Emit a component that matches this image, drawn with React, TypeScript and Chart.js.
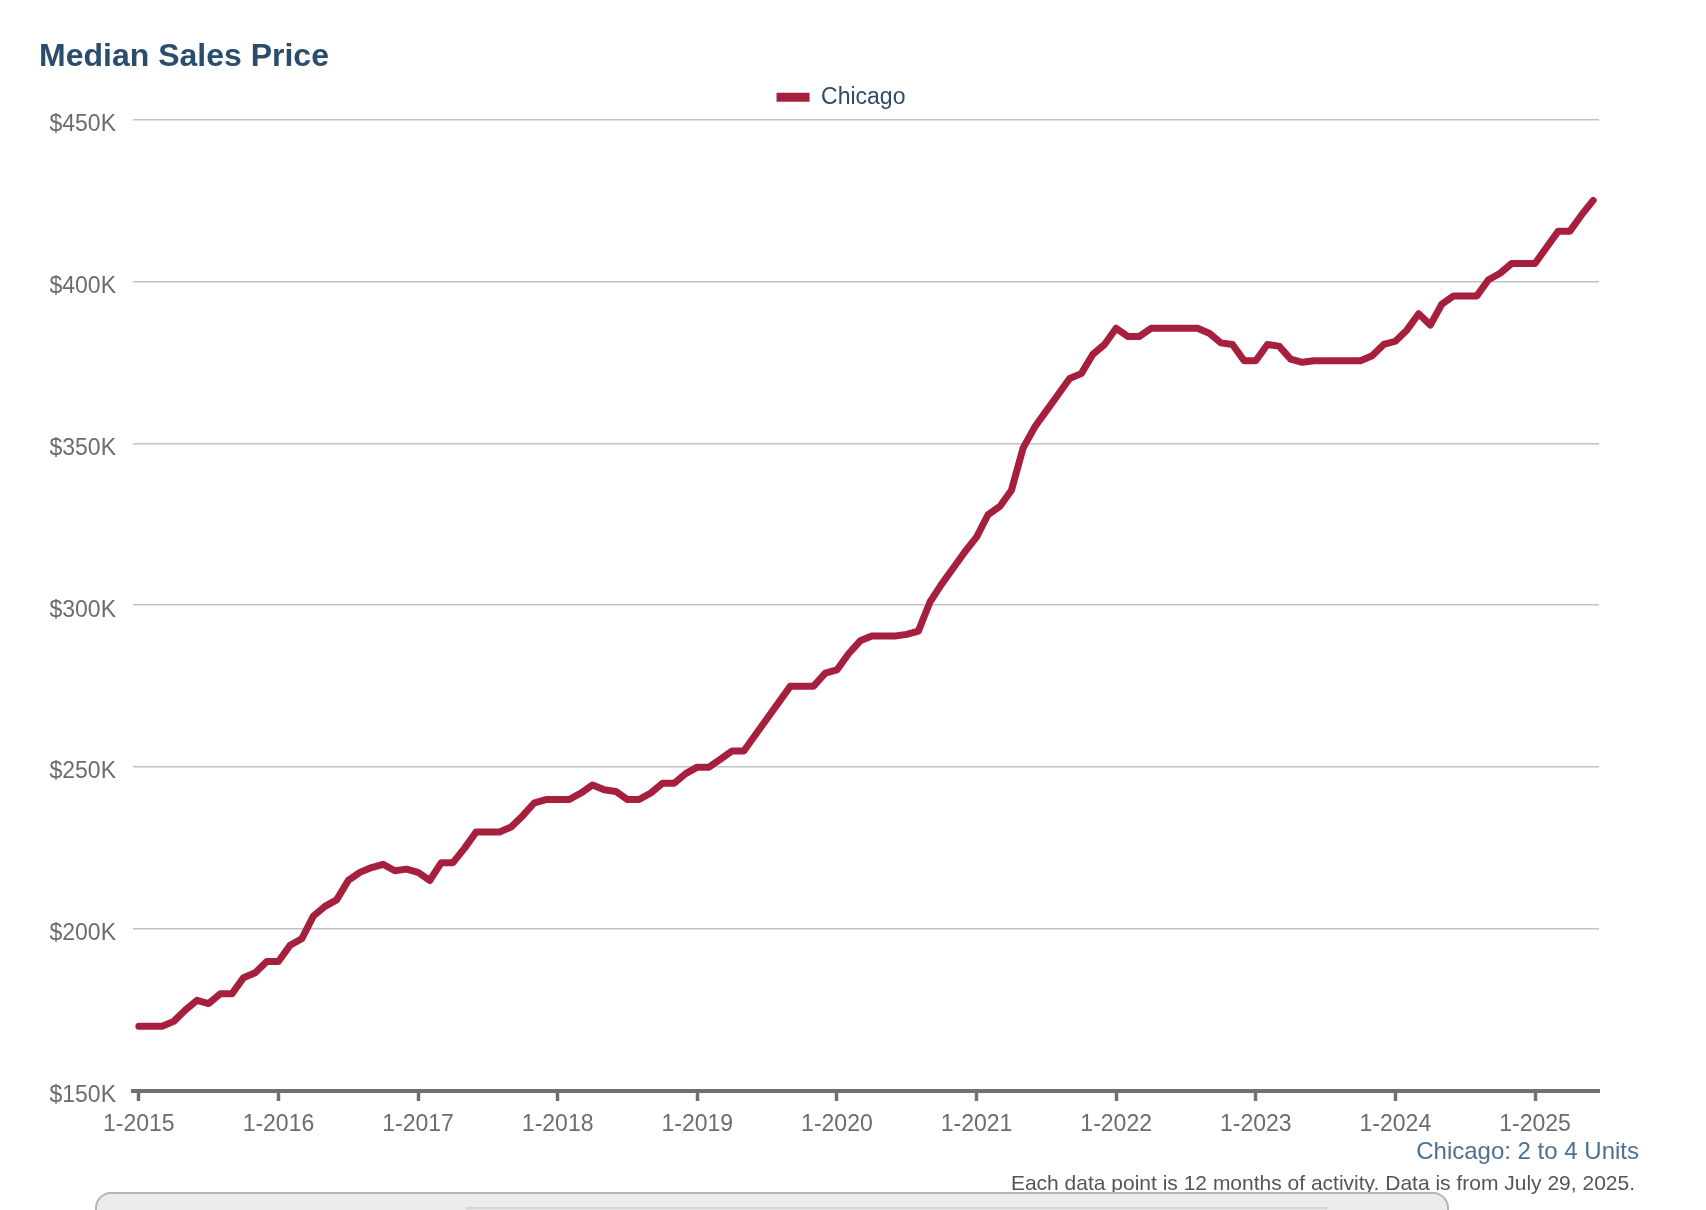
import React, { useEffect, useRef } from 'react';
import { Chart, registerables } from 'chart.js';

Chart.register(...registerables);

// ---- data ----
const years = [2015, 2016, 2017, 2018, 2019, 2020, 2021, 2022, 2023, 2024, 2025];
const monthLabels: string[] = [];
for (const yr of years) {
  for (let mo = 1; mo <= 12; mo++) monthLabels.push(`${mo}-${yr}`);
}
const xTickIndexes = [0, 12, 24, 36, 48, 60, 72, 84, 96, 108, 120];
const yTickValues = [150000, 200000, 250000, 300000, 350000, 400000, 450000];
const seriesName = 'Chicago';
const chicagoMedian = [
  170000, 170000, 170000, 171500, 175000, 178000, 177000, 180000, 180000, 185000, 186500, 190000, // 2015
  190000, 195000, 197000, 204000, 207000, 209000, 215000, 217500, 219000, 220000, 218000, 218500, // 2016
  217500, 215000, 220500, 220500, 225000, 230000, 230000, 230000, 231500, 235000, 239000, 240000, // 2017
  240000, 240000, 242000, 244500, 243000, 242500, 240000, 240000, 242000, 245000, 245000, 248000, // 2018
  250000, 250000, 252500, 255000, 255000, 260000, 265000, 270000, 275000, 275000, 275000, 279000, // 2019
  280000, 285000, 289000, 290500, 290500, 290500, 291000, 292000, 301000, 306500, 311500, 316500, // 2020
  321000, 328000, 330500, 335500, 348500, 355000, 360000, 365000, 370000, 371500, 377500, 380500, // 2021
  385500, 383000, 383000, 385500, 385500, 385500, 385500, 385500, 384000, 381000, 380500, 375500, // 2022
  375500, 380500, 380000, 376000, 375000, 375500, 375500, 375500, 375500, 375500, 377000, 380500, // 2023
  381500, 385000, 390000, 386500, 393000, 395500, 395500, 395500, 400500, 402500, 405500, 405500, // 2024
  405500, 410500, 415500, 415500, 420500, 425000, // 2025
];

const titleText = 'Median Sales Price';
const subjectText = 'Chicago: 2 to 4 Units';
const footnoteText = 'Each data point is 12 months of activity. Data is from July 29, 2025.';

const FONT = "'Liberation Sans', Arial, Helvetica, sans-serif";
const LINE_COLOR = '#a61f3d';
const AXIS_TEXT = '#6c6c6c';

export default function App() {
  const canvasRef = useRef<HTMLCanvasElement | null>(null);

  useEffect(() => {
    if (!canvasRef.current) return;
    Chart.defaults.font.family = FONT;
    const chart = new Chart(canvasRef.current, {
      type: 'line',
      data: {
        datasets: [
          {
            label: seriesName,
            data: chicagoMedian.map((v, i) => ({ x: i, y: v })),
            borderColor: LINE_COLOR,
            backgroundColor: LINE_COLOR,
            borderWidth: 7,
            pointRadius: 0,
            pointHoverRadius: 0,
            tension: 0,
            fill: false,
            borderJoinStyle: 'round',
            borderCapStyle: 'round',
            yAxisID: 'y',
            xAxisID: 'x',
          },
        ],
      },
      options: {
        responsive: false,
        animation: false,
        events: [],
        layout: { padding: { left: 39, right: 63, top: 76.8, bottom: 59 } },
        plugins: {
          tooltip: { enabled: false },
          title: { display: false },
          subtitle: {
            display: true,
            text: '',
            weight: 500,
            padding: 0,
            font: { size: 0.6, lineHeight: 1 },
          } as any,
          legend: {
            display: true,
            position: 'top',
            align: 'center',
            labels: {
              boxWidth: 33,
              boxHeight: 9,
              padding: 9,
              color: '#2f4b6b',
              font: { size: 23, family: FONT },
              generateLabels: (c: any) =>
                Chart.defaults.plugins.legend.labels
                  .generateLabels(c)
                  .map((l: any) => ({ ...l, lineWidth: 0, fillStyle: LINE_COLOR, strokeStyle: LINE_COLOR })),
            },
          },
        },
        scales: {
          x: {
            type: 'linear',
            bounds: 'data',
            min: -0.5,
            max: 125.5,
            afterBuildTicks: (s: any) => {
              s.ticks = xTickIndexes.map((v) => ({ value: v }));
            },
            afterFit: (s: any) => {
              s.height = 60;
            },
            ticks: {
              autoSkip: false,
              maxRotation: 0,
              minRotation: 0,
              padding: 10,
              color: AXIS_TEXT,
              font: { size: 23, family: FONT },
              callback: (v: any) => monthLabels[Number(v)] ?? '',
            },
            grid: {
              display: true,
              drawOnChartArea: false,
              drawTicks: true,
              tickLength: 10,
              tickWidth: 3.5,
              tickColor: '#707070',
            },
            border: { display: true, color: '#707070', width: 4 },
          },
          y: {
            type: 'linear',
            position: 'left',
            min: 150000,
            max: 450000,
            afterBuildTicks: (s: any) => {
              s.ticks = yTickValues.map((v) => ({ value: v }));
            },
            afterFit: (s: any) => {
              s.width = 94;
            },
            ticks: {
              padding: 17,
              labelOffset: 5,
              color: AXIS_TEXT,
              font: { size: 23, family: FONT },
              callback: (v: any) => '$' + Number(v) / 1000 + 'K',
            },
            grid: {
              display: true,
              drawTicks: false,
              color: '#c2c2c2',
              lineWidth: 1.5,
            },
            border: { display: false },
          },
          // empty right-hand spacer so the legend centres like the original
          yRight: {
            type: 'linear',
            position: 'right',
            display: true,
            afterFit: (s: any) => {
              s.width = 44;
            },
            ticks: { display: false },
            grid: { display: false, drawTicks: false },
            border: { display: false },
          },
        },
      },
    });
    return () => chart.destroy();
  }, []);

  return (
    <div
      style={{
        position: 'fixed',
        left: 0,
        top: 0,
        width: 1706,
        height: 1210,
        overflow: 'hidden',
        background: '#ffffff',
        fontFamily: FONT,
      }}
    >
      <canvas ref={canvasRef} width={1706} height={1210} style={{ position: 'absolute', left: 0, top: 0 }} />
      <div
        style={{
          position: 'absolute',
          left: 39,
          top: 39,
          fontSize: 32,
          lineHeight: '32px',
          fontWeight: 'bold',
          color: '#2a4d6e',
          whiteSpace: 'nowrap',
        }}
      >
        {titleText}
      </div>
      <div
        style={{
          position: 'absolute',
          right: 67,
          top: 1139,
          fontSize: 24,
          lineHeight: '24px',
          color: '#4d7094',
          whiteSpace: 'nowrap',
        }}
      >
        {subjectText}
      </div>
      <div
        style={{
          position: 'absolute',
          right: 71,
          top: 1173,
          fontSize: 21,
          lineHeight: '20px',
          color: '#555555',
          whiteSpace: 'nowrap',
        }}
      >
        {footnoteText}
      </div>
      <div
        style={{
          position: 'absolute',
          left: 95,
          top: 1192,
          width: 1354,
          height: 60,
          boxSizing: 'border-box',
          border: '2px solid #b4b4b4',
          borderRadius: 16,
          background: '#ececec',
        }}
      />
      <div
        style={{
          position: 'absolute',
          left: 466,
          top: 1207,
          width: 861,
          height: 20,
          boxSizing: 'border-box',
          borderTop: '2px solid #d6d6d6',
          borderLeft: '1px solid #dadada',
          borderRight: '1px solid #dadada',
          background: '#e6e6e6',
        }}
      />
    </div>
  );
}
